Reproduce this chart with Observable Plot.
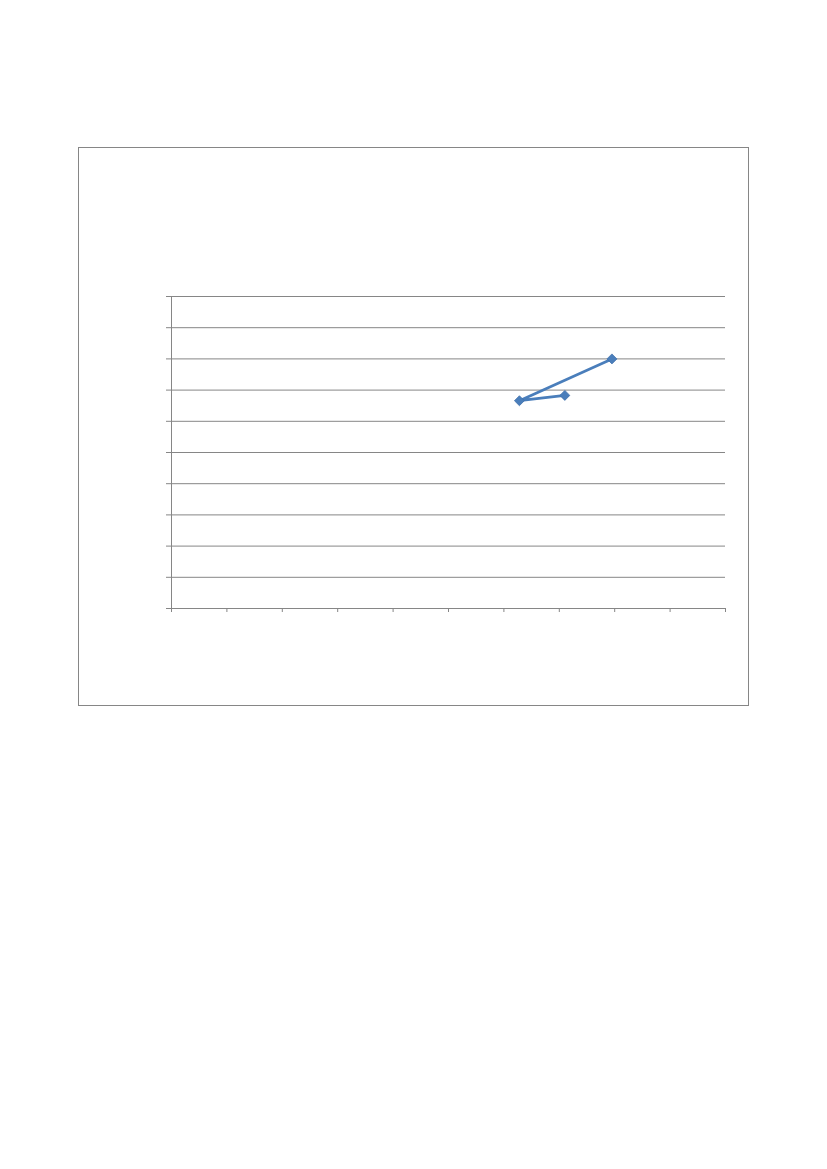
<!DOCTYPE html>
<html>
<head>
<meta charset="utf-8">
<script src="https://cdn.jsdelivr.net/npm/d3@7"></script>
<script src="https://cdn.jsdelivr.net/npm/@observablehq/plot@0.6"></script>
<style>
  html, body { margin: 0; padding: 0; background: #fff; }
  #wrap { position: relative; width: 827px; height: 1169px; }
  #frame { position: absolute; left: 78px; top: 147px; width: 669px; height: 557px; border: 1px solid #868686; box-sizing: content-box; }
  #chart { position: absolute; left: 0; top: 0; }
</style>
</head>
<body>
<div id="wrap"><div id="frame"></div><div id="chart"></div></div>
<script>
// Series (axis carries no labels)
const xValues = [7.95, 6.28, 7.10];
const yValues = [8.0, 6.66, 6.83];
const xTicks = [0, 1, 2, 3, 4, 5, 6, 7, 8, 9, 10];
const yTicks = [0, 1, 2, 3, 4, 5, 6, 7, 8, 9, 10];

const data = xValues.map((x, i) => ({x, y: yValues[i]}));
const gray = "#868686";
const blue = "#4A7EBB";

const chart = Plot.plot({
  width: 827,
  height: 1169,
  marginLeft: 171,
  marginRight: 102,
  marginTop: 296,
  marginBottom: 561,
  x: {domain: [0, 10]},
  y: {domain: [0, 10]},
  style: {background: "transparent"},
  marks: [
    Plot.gridY(yTicks, {stroke: gray, strokeOpacity: 1, strokeWidth: 1}),
    Plot.ruleX([0], {stroke: gray, strokeWidth: 1}),
    Plot.ruleY([0], {stroke: gray, strokeWidth: 1}),
    Plot.axisY(yTicks, {tickSize: 5, tickFormat: () => "", stroke: gray, label: null}),
    Plot.axisX(xTicks, {tickSize: 4, tickFormat: () => "", stroke: gray, label: null}),
    Plot.line(data, {x: "x", y: "y", stroke: blue, strokeWidth: 2.75}),
    Plot.dot(data, {x: "x", y: "y", symbol: "diamond2", r: 4.5, fill: blue, stroke: "#3F6FAA", strokeWidth: 0.75})
  ]
});
document.getElementById("chart").appendChild(chart);
</script>
</body>
</html>
